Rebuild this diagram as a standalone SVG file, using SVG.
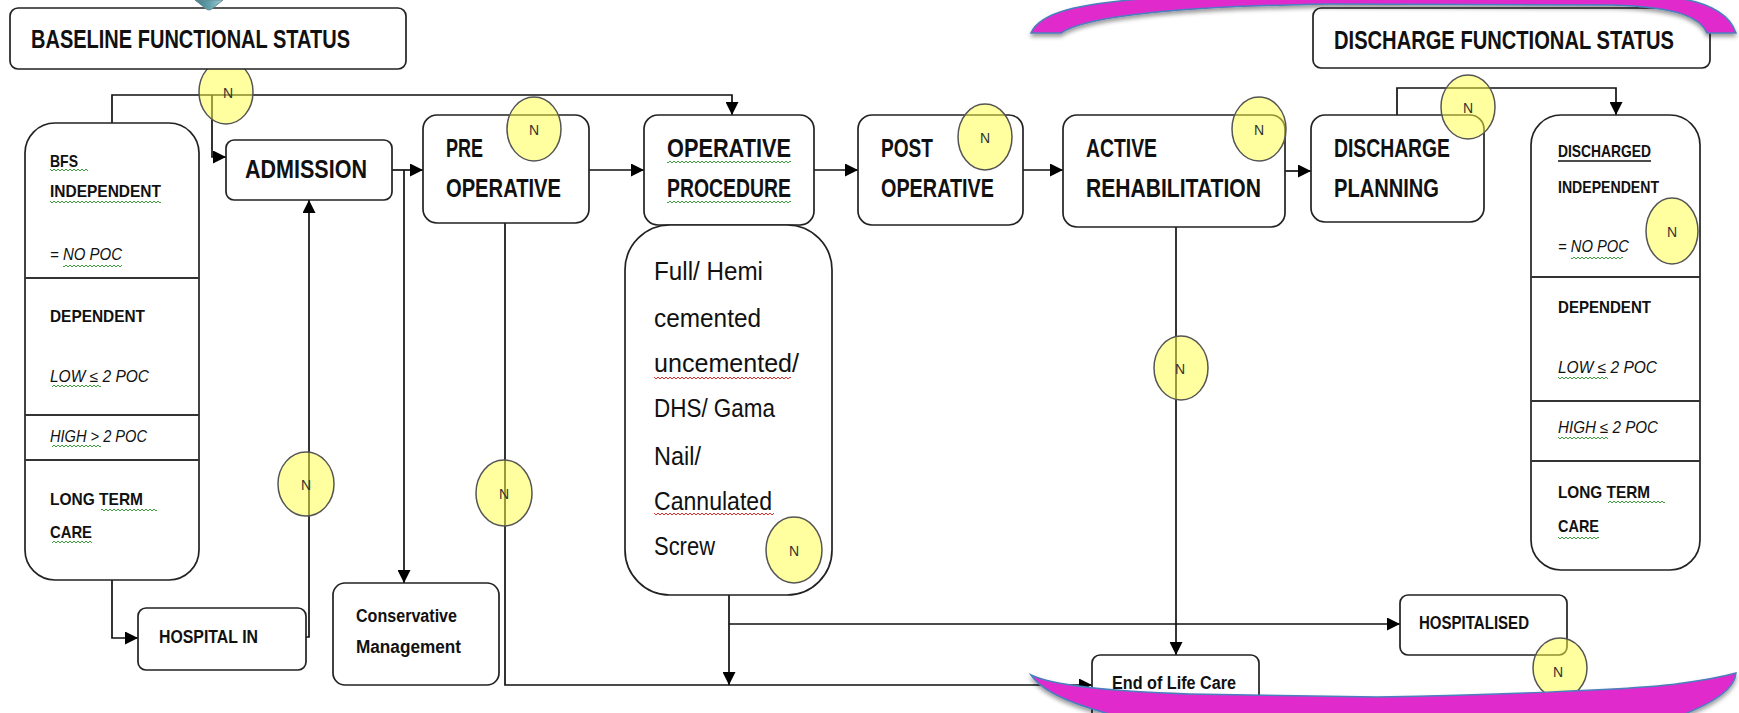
<svg xmlns="http://www.w3.org/2000/svg" width="1739" height="713" viewBox="0 0 1739 713">
<style>
.box{fill:#fff;stroke:#222;stroke-width:1.7}
.div{stroke:#333;stroke-width:1.8}
.con{fill:none;stroke:#111;stroke-width:1.7}
.arr{fill:none;stroke:#111;stroke-width:1.7;marker-end:url(#ah)}
.h{font-family:"Liberation Sans",Arial,sans-serif;font-weight:bold;font-size:25px;fill:#111}
.s{font-family:"Liberation Sans",Arial,sans-serif;font-weight:bold;font-size:17px;fill:#111}
.i{font-family:"Liberation Sans",Arial,sans-serif;font-style:italic;font-size:16px;fill:#111}
.m{font-family:"Liberation Sans",Arial,sans-serif;font-weight:bold;font-size:18px;fill:#111}
.r{font-family:"Liberation Sans",Arial,sans-serif;font-size:25px;fill:#111}
.n{font-family:"Liberation Sans",Arial,sans-serif;font-size:14px;fill:#333;text-anchor:middle}
.badge{fill:#ffff40;fill-opacity:0.5;stroke:#555;stroke-width:1.5}
.mag{fill:#e02ccb;stroke:#4a7ebf;stroke-width:1.5}
</style>
<defs>
<marker id="ah" viewBox="0 0 10 10" refX="10" refY="5" markerWidth="13" markerHeight="13" markerUnits="userSpaceOnUse" orient="auto"><path d="M0,0 L10,5 L0,10 z" fill="#000"/></marker>
<pattern id="wg" width="4" height="4" patternUnits="userSpaceOnUse"><path d="M0,3 L2,1 L4,3" fill="none" stroke="#3c9e3c" stroke-width="1"/></pattern>
<pattern id="wr" width="4" height="4" patternUnits="userSpaceOnUse"><path d="M0,3 L2,1 L4,3" fill="none" stroke="#e03030" stroke-width="1"/></pattern>
<linearGradient id="teal" x1="0" y1="0" x2="1" y2="0"><stop offset="0" stop-color="#3d7c8a"/><stop offset="0.5" stop-color="#5f9eaa"/><stop offset="1" stop-color="#a6d0d8"/></linearGradient>
<filter id="sh" x="-10%" y="-50%" width="120%" height="200%"><feDropShadow dx="0" dy="3" stdDeviation="2" flood-color="#000" flood-opacity="0.4"/></filter>
</defs>

<g id="connectors">
<path class="arr" d="M112,123 V95 H732 V115"/>
<path class="arr" d="M212,95 V157 H226"/>
<path class="arr" d="M392,170 H423"/>
<path class="arr" d="M404,170 V583"/>
<path class="arr" d="M589,170 H644"/>
<path class="arr" d="M814,170 H858"/>
<path class="arr" d="M1023,170 H1063"/>
<path class="arr" d="M1285,171 H1311"/>
<path class="arr" d="M1397,115 V88 H1616 V115"/>
<path class="arr" d="M112,580 V638 H138"/>
<path class="arr" d="M306,637 H309 V200"/>
<path class="arr" d="M505,223 V685 H1092"/>
<path class="con" d="M729,220 V228"/>
<path class="arr" d="M729,595 V685"/>
<path class="arr" d="M729,624 H1400"/>
<path class="arr" d="M1176,227 V655"/>
</g>

<g id="badge-bfs"><ellipse class="badge" cx="226" cy="92" rx="27" ry="32"/><text class="n" x="228" y="98">N</text></g>

<g id="node-baseline">
<rect class="box" x="10" y="8" width="396" height="61" rx="8"/>
<text class="h" x="31" y="48" textLength="319" lengthAdjust="spacingAndGlyphs">BASELINE FUNCTIONAL STATUS</text>
</g>

<g id="node-discharge-status">
<rect class="box" x="1313" y="8" width="397" height="60" rx="8"/>
<text class="h" x="1334" y="49" textLength="340" lengthAdjust="spacingAndGlyphs">DISCHARGE FUNCTIONAL STATUS</text>
</g>

<g id="node-bfs">
<rect class="box" x="25" y="123" width="174" height="457" rx="30"/>
<line class="div" x1="25" y1="278" x2="199" y2="278"/>
<line class="div" x1="25" y1="415" x2="199" y2="415"/>
<line class="div" x1="25" y1="460" x2="199" y2="460"/>
<text class="s" x="50" y="167" textLength="28" lengthAdjust="spacingAndGlyphs">BFS</text>
<text class="s" x="50" y="197" textLength="111" lengthAdjust="spacingAndGlyphs">INDEPENDENT</text>
<text class="i" x="50" y="260" textLength="72" lengthAdjust="spacingAndGlyphs">= NO  POC</text>
<text class="s" x="50" y="322" textLength="95" lengthAdjust="spacingAndGlyphs">DEPENDENT</text>
<text class="i" x="50" y="382" textLength="99" lengthAdjust="spacingAndGlyphs">LOW ≤ 2 POC</text>
<text class="i" x="50" y="442" textLength="97" lengthAdjust="spacingAndGlyphs">HIGH &gt; 2 POC</text>
<text class="s" x="50" y="505" textLength="93" lengthAdjust="spacingAndGlyphs">LONG TERM</text>
<text class="s" x="50" y="538" textLength="42" lengthAdjust="spacingAndGlyphs">CARE</text>
<rect x="50" y="168" width="38" height="4" fill="url(#wg)"/>
<rect x="50" y="200" width="111" height="4" fill="url(#wg)"/>
<rect x="63" y="264" width="59" height="4" fill="url(#wg)"/>
<rect x="52" y="384" width="49" height="4" fill="url(#wg)"/>
<rect x="52" y="444" width="49" height="4" fill="url(#wg)"/>
<rect x="101" y="508" width="56" height="4" fill="url(#wg)"/>
<rect x="52" y="540" width="40" height="4" fill="url(#wg)"/>
</g>

<g id="node-admission">
<rect class="box" x="226" y="140" width="166" height="60" rx="8"/>
<text class="h" x="245" y="178" textLength="122" lengthAdjust="spacingAndGlyphs">ADMISSION</text>
</g>

<g id="node-preop">
<rect class="box" x="423" y="115" width="166" height="108" rx="14"/>
<text class="h" x="446" y="157" textLength="37" lengthAdjust="spacingAndGlyphs">PRE</text>
<text class="h" x="446" y="197" textLength="115" lengthAdjust="spacingAndGlyphs">OPERATIVE</text>
</g>

<g id="node-operative">
<rect class="box" x="644" y="115" width="170" height="110" rx="14"/>
<text class="h" x="667" y="157" textLength="124" lengthAdjust="spacingAndGlyphs">OPERATIVE</text>
<text class="h" x="667" y="197" textLength="124" lengthAdjust="spacingAndGlyphs">PROCEDURE</text>
<rect x="667" y="160" width="124" height="4" fill="url(#wg)"/>
<rect x="667" y="200" width="124" height="4" fill="url(#wg)"/>
</g>

<g id="node-postop">
<rect class="box" x="858" y="115" width="165" height="110" rx="14"/>
<text class="h" x="881" y="157" textLength="52" lengthAdjust="spacingAndGlyphs">POST</text>
<text class="h" x="881" y="197" textLength="113" lengthAdjust="spacingAndGlyphs">OPERATIVE</text>
</g>

<g id="node-active">
<rect class="box" x="1063" y="115" width="222" height="112" rx="14"/>
<text class="h" x="1086" y="157" textLength="71" lengthAdjust="spacingAndGlyphs">ACTIVE</text>
<text class="h" x="1086" y="197" textLength="175" lengthAdjust="spacingAndGlyphs">REHABILITATION</text>
</g>

<g id="node-discharge-planning">
<rect class="box" x="1311" y="115" width="173" height="107" rx="14"/>
<text class="h" x="1334" y="157" textLength="116" lengthAdjust="spacingAndGlyphs">DISCHARGE</text>
<text class="h" x="1334" y="197" textLength="105" lengthAdjust="spacingAndGlyphs">PLANNING</text>
</g>

<g id="node-discharged">
<rect class="box" x="1531" y="115" width="169" height="455" rx="30"/>
<line class="div" x1="1531" y1="277" x2="1700" y2="277"/>
<line class="div" x1="1531" y1="401" x2="1700" y2="401"/>
<line class="div" x1="1531" y1="461" x2="1700" y2="461"/>
<text class="s" x="1558" y="157" textLength="93" lengthAdjust="spacingAndGlyphs">DISCHARGED</text>
<line x1="1558" y1="161" x2="1651" y2="161" stroke="#111" stroke-width="1.5"/>
<text class="s" x="1558" y="193" textLength="101" lengthAdjust="spacingAndGlyphs">INDEPENDENT</text>
<text class="i" x="1558" y="252" textLength="71" lengthAdjust="spacingAndGlyphs">= NO  POC</text>
<text class="s" x="1558" y="313" textLength="93" lengthAdjust="spacingAndGlyphs">DEPENDENT</text>
<text class="i" x="1558" y="373" textLength="99" lengthAdjust="spacingAndGlyphs">LOW ≤ 2 POC</text>
<text class="i" x="1558" y="433" textLength="100" lengthAdjust="spacingAndGlyphs">HIGH ≤ 2 POC</text>
<text class="s" x="1558" y="498" textLength="92" lengthAdjust="spacingAndGlyphs">LONG TERM</text>
<text class="s" x="1558" y="532" textLength="41" lengthAdjust="spacingAndGlyphs">CARE</text>
<rect x="1571" y="256" width="52" height="4" fill="url(#wg)"/>
<rect x="1558" y="376" width="50" height="4" fill="url(#wg)"/>
<rect x="1558" y="436" width="50" height="4" fill="url(#wg)"/>
<rect x="1608" y="500" width="57" height="4" fill="url(#wg)"/>
<rect x="1558" y="536" width="41" height="4" fill="url(#wg)"/>
</g>

<g id="node-procedures">
<rect class="box" x="625" y="225" width="207" height="370" rx="45"/>
<text class="r" x="654" y="280" textLength="109" lengthAdjust="spacingAndGlyphs">Full/ Hemi</text>
<text class="r" x="654" y="327" textLength="107" lengthAdjust="spacingAndGlyphs">cemented</text>
<text class="r" x="654" y="372" textLength="145" lengthAdjust="spacingAndGlyphs">uncemented/</text>
<text class="r" x="654" y="417" textLength="121" lengthAdjust="spacingAndGlyphs">DHS/ Gama</text>
<text class="r" x="654" y="465" textLength="47" lengthAdjust="spacingAndGlyphs">Nail/</text>
<text class="r" x="654" y="510" textLength="118" lengthAdjust="spacingAndGlyphs">Cannulated</text>
<text class="r" x="654" y="555" textLength="61" lengthAdjust="spacingAndGlyphs">Screw</text>
<rect x="654" y="376" width="137" height="4" fill="url(#wr)"/>
<rect x="654" y="512" width="120" height="4" fill="url(#wr)"/>
</g>

<g id="node-hospital-in">
<rect class="box" x="138" y="608" width="168" height="62" rx="8"/>
<text class="m" x="159" y="643" textLength="99" lengthAdjust="spacingAndGlyphs">HOSPITAL IN</text>
</g>

<g id="node-conservative">
<rect class="box" x="333" y="583" width="166" height="102" rx="12"/>
<text class="m" x="356" y="622" textLength="101" lengthAdjust="spacingAndGlyphs">Conservative</text>
<text class="m" x="356" y="653" textLength="105" lengthAdjust="spacingAndGlyphs">Management</text>
</g>

<g id="node-hospitalised">
<rect class="box" x="1400" y="595" width="167" height="60" rx="8"/>
<text class="m" x="1419" y="629" textLength="110" lengthAdjust="spacingAndGlyphs">HOSPITALISED</text>
</g>

<g id="node-end-of-life">
<rect class="box" x="1092" y="655" width="167" height="80" rx="8"/>
<text class="m" x="1112" y="689" textLength="124" lengthAdjust="spacingAndGlyphs">End of Life Care</text>
</g>

<g id="badge-preop"><ellipse class="badge" cx="534" cy="129" rx="27" ry="32"/><text class="n" x="534" y="135">N</text></g>
<g id="badge-postop"><ellipse class="badge" cx="985" cy="137" rx="27" ry="33"/><text class="n" x="985" y="143">N</text></g>
<g id="badge-active"><ellipse class="badge" cx="1259" cy="129" rx="27" ry="32"/><text class="n" x="1259" y="135">N</text></g>
<g id="badge-planning"><ellipse class="badge" cx="1468" cy="107" rx="27" ry="32"/><text class="n" x="1468" y="113">N</text></g>
<g id="badge-discharged"><ellipse class="badge" cx="1672" cy="231" rx="26" ry="33"/><text class="n" x="1672" y="237">N</text></g>
<g id="badge-rehab-line"><ellipse class="badge" cx="1181" cy="368" rx="27" ry="32"/><text class="n" x="1180" y="374">N</text></g>
<g id="badge-admission-line"><ellipse class="badge" cx="306" cy="484" rx="28" ry="32"/><text class="n" x="306" y="490">N</text></g>
<g id="badge-preop-line"><ellipse class="badge" cx="504" cy="493" rx="28" ry="33"/><text class="n" x="504" y="499">N</text></g>
<g id="badge-procedures"><ellipse class="badge" cx="794" cy="550" rx="28" ry="33"/><text class="n" x="794" y="556">N</text></g>
<g id="badge-hospitalised"><ellipse class="badge" cx="1560" cy="668" rx="27" ry="30"/><text class="n" x="1558" y="677">N</text></g>

<g id="decor">
<path d="M195,0 L223,0 L213,8 Q209,12 205,8 Z" fill="url(#teal)" stroke="#6a8a90" stroke-width="1"/>
<path class="mag" filter="url(#sh)" d="M1031,33 C1040,12 1080,4 1141,-1 L1141,-5 L1683,-5 L1683,-1 C1710,4 1730,15 1736,33 L1707,33 C1700,18 1680,7 1613,5 L1330,4 C1200,6 1090,14 1061,33 Z"/>
<path class="mag" filter="url(#sh)" d="M1031,675 C1050,684 1100,691 1189,694 L1377,697 C1480,695 1640,690 1683,683 C1705,680 1725,676 1736,673 C1735,690 1710,705 1674,718 L1123,718 C1080,706 1045,695 1031,675 Z"/>
</g>
</svg>
